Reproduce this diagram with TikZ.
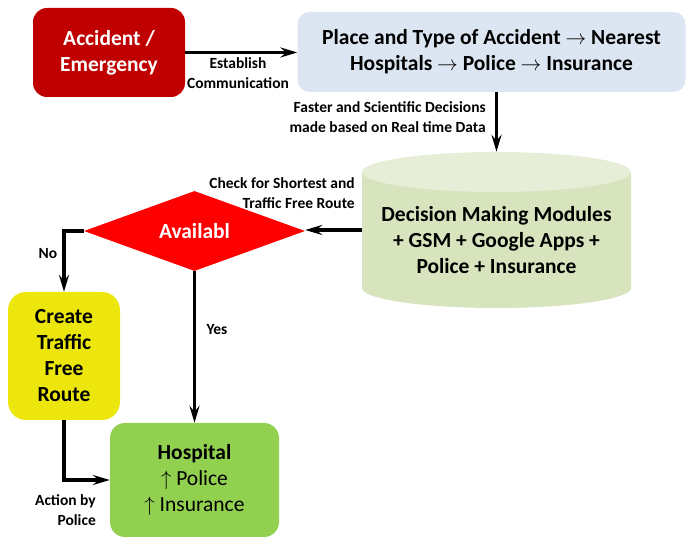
\documentclass[tikz,border=0pt]{standalone}
\usepackage{fontspec}
\setmainfont{Carlito}
\usetikzlibrary{arrows.meta,shapes.geometric,positioning}
\definecolor{accred}{RGB}{192,0,0}
\definecolor{placeblue}{RGB}{220,230,242}
\definecolor{cylbody}{RGB}{215,228,189}
\definecolor{cyltop}{RGB}{231,238,216}
\definecolor{routeyellow}{RGB}{237,230,12}
\definecolor{hospgreen}{RGB}{146,208,80}
\tikzset{
	box/.style={rounded corners=14pt,inner sep=2pt,align=center,font=\fontsize{21.5}{26}\selectfont\bfseries},
	line/.style={line width=3.5pt,-{Stealth[length=17pt,width=10pt,inset=6pt]}},
	lbl/.style={inner sep=0pt,font=\fontsize{15.5}{20}\selectfont\bfseries}
}

\begin{document}
\begin{tikzpicture}[x=1pt,y=-1pt]
	\useasboundingbox (0,0) rectangle (686,537);
	\node (acc) at (109,52.5)[box,fill=accred,text=white,minimum width=152pt,minimum height=89pt] {Accident /\\Emergency};
	\node (place) at (491.5,52)[box,fill=placeblue,rounded corners=12pt,minimum width=388pt,minimum height=80pt] {Place and Type of Accident $\rightarrow$ Nearest\\Hospitals $\rightarrow$ Police $\rightarrow$ Insurance};
	\fill[cylbody] (362,172) -- (362,288) arc[start angle=180,end angle=0,x radius=134.5,y radius=20] -- (631,172) -- cycle;
	\fill[cyltop] (496.5,172) ellipse[x radius=134.5,y radius=20];
	\node (dmm) at (496.5,230)[minimum width=269pt,minimum height=156pt,inner sep=0pt] {};
	\node (dmmtext) at (496.5,240)[box] {Decision Making Modules\\+ GSM + Google Apps +\\Police + Insurance};
	\node (avail) at (194.5,231)[diamond,fill=red,text=white,inner sep=0pt,aspect=2.76,minimum width=221pt,minimum height=80pt,font=\fontsize{21.5}{26}\selectfont\bfseries] {Availabl};
	\node (route) at (64,356)[box,fill=routeyellow,rounded corners=18pt,minimum width=112pt,minimum height=128pt] {Create\\Traffic\\Free\\Route};
	\node (hosp) at (194.5,480)[box,fill=hospgreen,rounded corners=15pt,minimum width=169pt,minimum height=114pt] {Hospital\\{\mdseries$\uparrow$ Police}\\{\mdseries$\uparrow$ Insurance}};
	\draw[line] (acc.east) -- (acc.east -| place.west);
	\draw[line] (place.south -| dmm.north) -- (dmm.north);
	\draw[line] (dmm.west) -- (dmm.west -| avail.east);
	\draw[line] (avail.west) -| (route.north);
	\draw[line] (avail.south) -- (hosp.north);
	\draw[line] (route.south) |- (hosp.west);
	\node (estab) at (238,73)[lbl,align=center] {Establish\\Communication};
	\node (faster) at (486,117)[lbl,anchor=east,align=right] {Faster and Scientific Decisions\\made based on Real time Data};
	\node (check) at (355,193)[lbl,anchor=east,align=right] {Check for Shortest and\\Traffic Free Route};
	\node (no) at (48,254)[lbl] {No};
	\node (yes) at (217,330)[lbl] {Yes};
	\node (action) at (96,510)[lbl,anchor=east,align=right] {Action by\\Police};
\end{tikzpicture}
\end{document}
